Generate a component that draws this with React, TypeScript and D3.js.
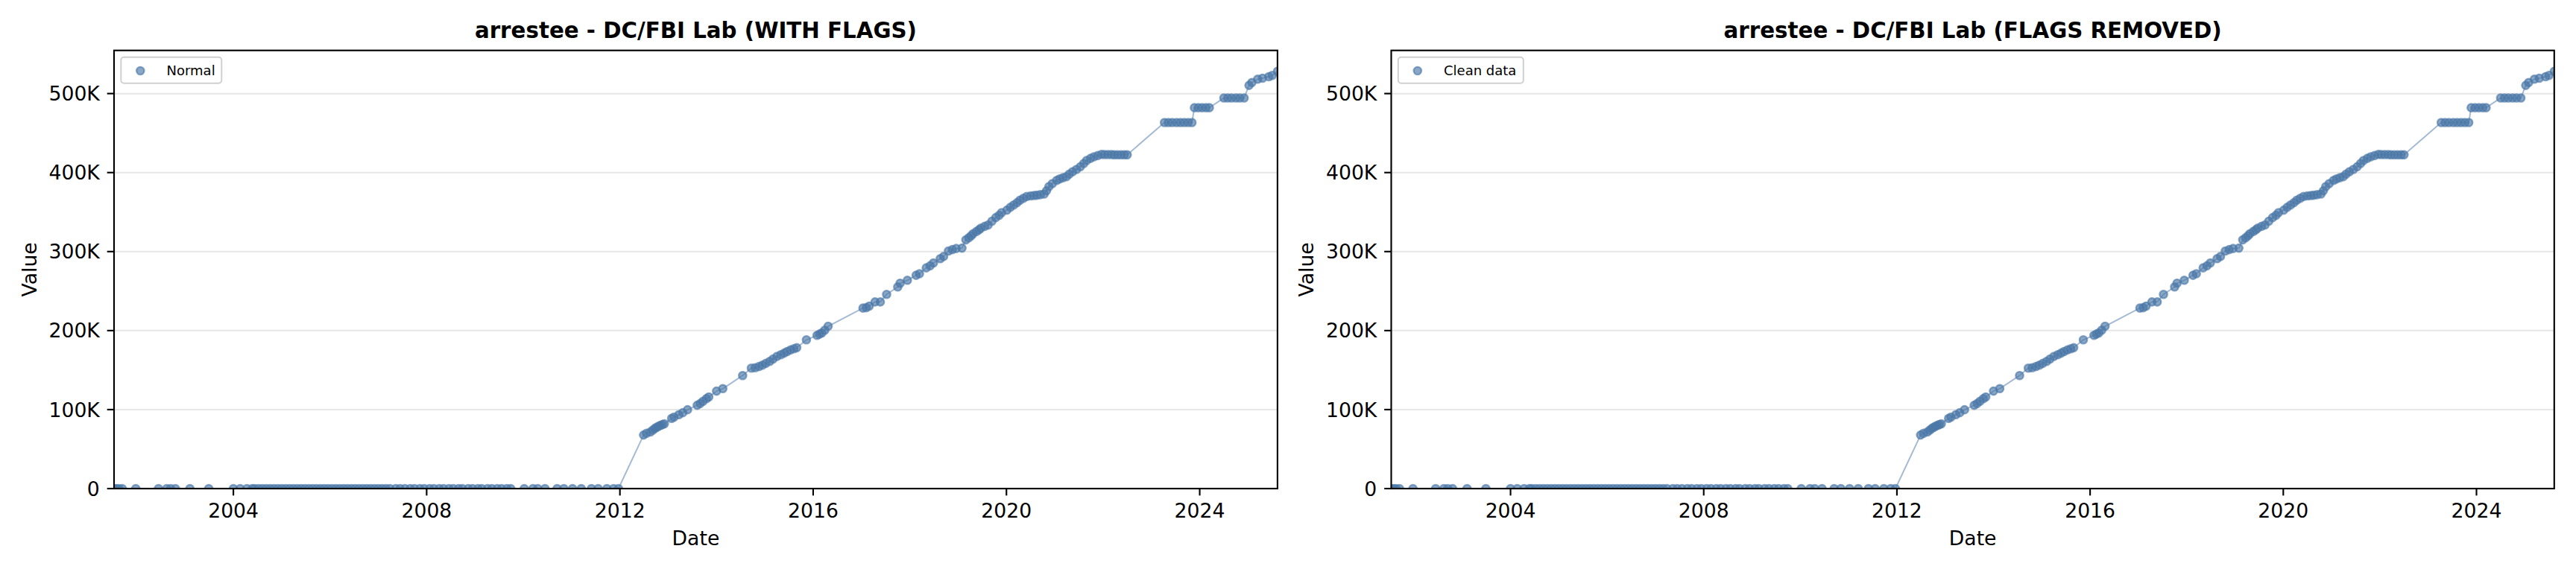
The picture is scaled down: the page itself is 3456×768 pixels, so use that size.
import React from "react";
import * as d3 from "d3";

// ---------- data (decimal years, values) ----------
const zeroYears = [
  2001.53, 2001.58, 2001.63, 2001.7, 2001.98, 2002.45, 2002.62, 2002.7, 2002.8, 2003.1, 2003.49,
  2004.0, 2004.14, 2004.28, 2004.39,
  2004.44, 2004.52, 2004.6, 2004.68, 2004.76, 2004.84, 2004.92, 2005.0, 2005.08, 2005.16, 2005.24,
  2005.32, 2005.4, 2005.48, 2005.56, 2005.64, 2005.72, 2005.8, 2005.88, 2005.96, 2006.04, 2006.12,
  2006.2, 2006.28, 2006.36, 2006.44, 2006.52, 2006.6, 2006.68, 2006.76, 2006.84, 2006.92, 2007.0,
  2007.08, 2007.16, 2007.24, 2007.36, 2007.45, 2007.55, 2007.66, 2007.75, 2007.86, 2007.95, 2008.06,
  2008.15, 2008.26, 2008.35, 2008.46, 2008.55, 2008.66, 2008.74, 2008.86, 2008.95, 2009.06, 2009.14,
  2009.26, 2009.35, 2009.46, 2009.55, 2009.66, 2009.74,
  2010.02, 2010.2, 2010.3, 2010.45, 2010.7, 2010.84, 2011.02, 2011.2, 2011.41, 2011.55, 2011.73,
  2011.87, 2011.97,
];

const growthYears = [
  2012.49, 2012.55, 2012.63, 2012.68, 2012.72, 2012.76, 2012.8, 2012.84, 2012.88, 2012.92,
  2013.07, 2013.12, 2013.22, 2013.3, 2013.4, 2013.6, 2013.66, 2013.72, 2013.79, 2013.84,
  2014.0, 2014.13, 2014.54, 2014.72, 2014.8, 2014.88, 2014.95, 2015.02, 2015.1, 2015.17,
  2015.25, 2015.33, 2015.4, 2015.46, 2015.53, 2015.6, 2015.66, 2015.86, 2016.08, 2016.13,
  2016.18, 2016.24, 2016.31, 2017.03, 2017.1, 2017.16, 2017.28, 2017.39, 2017.52, 2017.75,
  2017.8, 2017.95, 2018.13, 2018.2, 2018.34, 2018.42, 2018.49, 2018.63, 2018.7, 2018.8,
  2018.88, 2018.96, 2019.08, 2019.16, 2019.22, 2019.27, 2019.31, 2019.38, 2019.43, 2019.47,
  2019.55, 2019.62, 2019.7, 2019.78, 2019.85, 2019.9, 2020.01, 2020.08, 2020.15, 2020.22,
  2020.28, 2020.35, 2020.42, 2020.5, 2020.57, 2020.63, 2020.7, 2020.78, 2020.83, 2020.88,
  2020.95, 2021.04, 2021.1, 2021.17, 2021.24, 2021.3, 2021.37, 2021.45, 2021.53, 2021.6,
  2021.66, 2021.74, 2021.81, 2021.89, 2021.97, 2022.03, 2022.1, 2022.17, 2022.23, 2022.3,
  2022.37, 2022.44, 2022.5, 2023.27, 2023.35, 2023.43, 2023.52, 2023.6, 2023.68, 2023.76,
  2023.84, 2023.89, 2023.97, 2024.05, 2024.13, 2024.2, 2024.5, 2024.58, 2024.66, 2024.75,
  2024.83, 2024.92, 2025.02, 2025.08, 2025.2, 2025.3, 2025.43, 2025.5, 2025.61,
];

const growthValuesK = [
  67.8, 70, 71.6, 74, 76, 77.5, 79, 80, 81, 82,
  88.8, 90.5, 93.5, 96, 99.8, 105.5, 107.6, 110.5, 113.9, 116,
  123.4, 126.5, 143.1, 152.5, 153, 154.5, 156.3, 158.5, 161, 164,
  167.3, 169.5, 171.5, 173.5, 175.5, 177, 178.3, 188.3, 194, 195.5,
  197, 200.5, 205.5, 228.5, 229, 231, 236.3, 236.3, 245.8, 255.2,
  260, 263.7, 270, 272, 279.4, 282, 285.6, 291, 293.8, 300.7,
  302.5, 303.9, 304.4, 314.8, 317.5, 320, 322.7, 325.5, 327.5, 329.6,
  332, 333.6, 338.5, 343, 346, 349.3, 352.5, 356, 359, 361.9,
  365, 367.5, 369.8, 370.5, 371, 371.3, 372, 372.9, 377, 382.3,
  386, 390.1, 392, 393.5, 394.8, 398, 401.1, 404, 407.4, 411.5,
  415.3, 418, 420, 421.5, 423.1, 422.8, 422.8, 422.8, 422.5, 422.5,
  422.5, 422.5, 422.5, 463.3, 463.3, 463.3, 463.3, 463.3, 463.3, 463.3,
  463.3, 482.1, 482.1, 482.1, 482.1, 482.1, 494.4, 494.4, 494.4, 494.4,
  494.4, 494.4, 510.4, 514, 518.2, 519.5, 521.4, 523, 528.2,
];

const xTickYears = [2004, 2008, 2012, 2016, 2020, 2024];
const yTickValues = [0, 100000, 200000, 300000, 400000, 500000];
const panelTitles = [
  "arrestee - DC/FBI Lab (WITH FLAGS)",
  "arrestee - DC/FBI Lab (FLAGS REMOVED)",
];
const legendLabels = ["Normal", "Clean data"];

// ---------- layout ----------
const W = 3456;
const H = 768;
const TOP = 67.7;
const BOTTOM = 656;
const panelX = [
  { left: 153, right: 1713.9, legendW: 135 },
  { left: 1866.5, right: 3426.8, legendW: 168 },
];
const COLOR = "#4C78A8";
const FONT = "'DejaVu Sans', sans-serif";
const R = 5.1;
const MSW = 2.4;
const MOP = 0.65;

type Pt = { x: number; v: number };
const points: Pt[] = [
  ...zeroYears.map((x) => ({ x, v: 0 })),
  ...growthYears.map((x, i) => ({ x, v: growthValuesK[i] * 1000 })),
];

const fmtY = (d: number) => (d === 0 ? "0" : `${d / 1000}K`);

function Panel({ idx }: { idx: number }) {
  const { left, right, legendW } = panelX[idx];
  const xExtent = d3.extent(points, (p) => p.x) as [number, number];
  const vMax = d3.max(points, (p) => p.v) as number;
  const x = d3.scaleLinear().domain(xExtent).range([left, right]);
  const y = d3.scaleLinear().domain([0, vMax * 1.05]).range([BOTTOM, TOP]);
  const line = d3
    .line<Pt>()
    .x((p) => x(p.x))
    .y((p) => y(p.v));
  const clipId = `clip${idx}`;
  const cx = (left + right) / 2;
  const tick = 9.33;
  const sw = 2.13;
  return (
    <g>
      <defs>
        <clipPath id={clipId}>
          <rect x={left} y={TOP} width={right - left} height={BOTTOM - TOP} />
        </clipPath>
      </defs>
      {/* grid */}
      {yTickValues.map((t) => (
        <line key={t} x1={left} x2={right} y1={y(t)} y2={y(t)} stroke="#e6e6e6" strokeWidth={2} />
      ))}
      {/* data */}
      <g clipPath={`url(#${clipId})`}>
        <path d={line(points) || ""} fill="none" stroke={COLOR} strokeOpacity={0.5} strokeWidth={2} />
        {points.map((p, i) => (
          <circle
            key={i}
            cx={x(p.x)}
            cy={y(p.v)}
            r={R}
            fill={COLOR}
            fillOpacity={MOP}
            stroke={COLOR}
            strokeOpacity={MOP}
            strokeWidth={MSW}
          />
        ))}
      </g>
      {/* spines */}
      <rect x={left} y={TOP} width={right - left} height={BOTTOM - TOP} fill="none" stroke="#000" strokeWidth={sw} />
      {/* x ticks */}
      {xTickYears.map((t) => (
        <g key={t}>
          <line x1={x(t)} x2={x(t)} y1={BOTTOM} y2={BOTTOM + tick} stroke="#000" strokeWidth={sw} />
          <text x={x(t)} y={695} textAnchor="middle" fontSize={26.67} fontFamily={FONT} fill="#000">
            {t}
          </text>
        </g>
      ))}
      {/* y ticks */}
      {yTickValues.map((t) => (
        <g key={t}>
          <line x1={left - tick} x2={left} y1={y(t)} y2={y(t)} stroke="#000" strokeWidth={sw} />
          <text
            x={left - 2 * tick - 0.5}
            y={y(t)}
            dy="0.36em"
            textAnchor="end"
            fontSize={26.67}
            fontFamily={FONT}
            fill="#000"
          >
            {fmtY(t)}
          </text>
        </g>
      ))}
      {/* axis labels */}
      <text x={cx} y={731.5} textAnchor="middle" fontSize={26.67} fontFamily={FONT} fill="#000">
        Date
      </text>
      <text
        transform={`translate(${left - 104.5},${(TOP + BOTTOM) / 2}) rotate(-90)`}
        textAnchor="middle"
        fontSize={26.67}
        fontFamily={FONT}
        fill="#000"
      >
        Value
      </text>
      {/* title */}
      <text x={cx} y={51} textAnchor="middle" fontSize={29.3} fontWeight="bold" fontFamily={FONT} fill="#000">
        {panelTitles[idx]}
      </text>
      {/* legend */}
      <g>
        <rect
          x={left + 9.3}
          y={76.7}
          width={legendW}
          height={35}
          rx={4}
          ry={4}
          fill="#fff"
          fillOpacity={0.8}
          stroke="#d0d0d0"
          strokeWidth={2}
        />
        <circle
          cx={left + 35.3}
          cy={95}
          r={R}
          fill={COLOR}
          fillOpacity={MOP}
          stroke={COLOR}
          strokeOpacity={MOP}
          strokeWidth={MSW}
        />
        <text x={left + 70.5} y={100.7} fontSize={18} fontFamily={FONT} fill="#000">
          {legendLabels[idx]}
        </text>
      </g>
    </g>
  );
}

export default function App() {
  return (
    <svg
      width={W}
      height={H}
      viewBox={`0 0 ${W} ${H}`}
      style={{ position: "absolute", left: 0, top: 0, background: "#fff" }}
    >
      <rect x={0} y={0} width={W} height={H} fill="#fff" />
      <Panel idx={0} />
      <Panel idx={1} />
    </svg>
  );
}
